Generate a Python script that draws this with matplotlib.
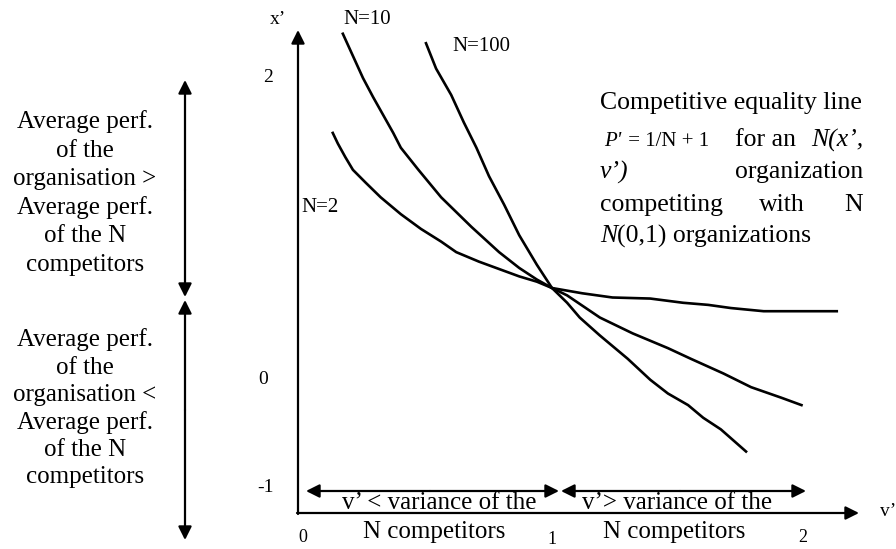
import matplotlib.pyplot as plt

plt.rcParams['font.family'] = ['Liberation Serif', 'DejaVu Serif']

# competitive equality lines, v' (variance) against x' (mean)
v_n2 = [0.13, 0.15, 0.18, 0.21, 0.26, 0.32, 0.40, 0.48, 0.56, 0.62, 0.71, 0.79, 0.87, 0.94, 1.0,
        1.12, 1.24, 1.39, 1.52, 1.62, 1.71, 1.84, 2.13]
x_n2 = [1.47, 1.37, 1.24, 1.12, 1.00, 0.86, 0.70, 0.56, 0.44, 0.34, 0.25, 0.18, 0.11, 0.06, 0.0,
        -0.05, -0.09, -0.10, -0.14, -0.16, -0.19, -0.22, -0.22]

v_n10 = [0.17, 0.21, 0.25, 0.29, 0.33, 0.37, 0.40, 0.47, 0.56, 0.68, 0.79, 0.87, 0.94, 1.0,
         1.06, 1.19, 1.32, 1.46, 1.55, 1.68, 1.79, 1.91, 1.99]
x_n10 = [2.41, 2.20, 1.99, 1.81, 1.64, 1.47, 1.33, 1.12, 0.86, 0.58, 0.34, 0.19, 0.08, 0.0,
         -0.07, -0.28, -0.43, -0.57, -0.67, -0.81, -0.94, -1.04, -1.11]

v_n100 = [0.50, 0.54, 0.60, 0.65, 0.70, 0.75, 0.81, 0.87, 0.94, 1.0,
          1.06, 1.11, 1.19, 1.30, 1.39, 1.46, 1.54, 1.60, 1.67, 1.77]
x_n100 = [2.32, 2.08, 1.83, 1.57, 1.33, 1.06, 0.79, 0.50, 0.22, 0.0,
          -0.14, -0.28, -0.45, -0.67, -0.87, -1.00, -1.11, -1.23, -1.34, -1.55]

curves = [(v_n2, x_n2), (v_n10, x_n10), (v_n100, x_n100)]

W, H = 896, 549


def P(x, y):
    # pixel position on the page -> figure fraction
    return (x / W, 1 - y / H)


fig = plt.figure(figsize=(W / 100, H / 100), dpi=100)
ax = fig.add_axes([0, 0, 1, 1])
ax.set_xlim(-1.1905, 2.3651)
ax.set_ylim(-2.474, 2.730)
ax.axis('off')

for v, x in curves:
    ax.plot(v, x, color='black', lw=1.9)

arrow = dict(arrowstyle='-|>', color='black', lw=1.6, mutation_scale=20, shrinkA=0, shrinkB=0)


def arr(p0, p1):
    ax.annotate('', xy=P(*p1), xytext=P(*p0), xycoords='figure fraction',
                textcoords='figure fraction', arrowprops=arrow)


# axes
arr((298, 514), (298, 30))
arr((297, 513), (859, 513))

# left brackets
arr((185, 190), (185, 80))
arr((185, 190), (185, 297))
arr((185, 410), (185, 300))
arr((185, 410), (185, 540))

# v' range arrows
arr((430, 491), (306, 491))
arr((430, 491), (559, 491))
arr((680, 491), (561, 491))
arr((680, 491), (806, 491))


def T(x, y, s, size=14, ha='center', **kw):
    return fig.text(*P(x, y), s, fontsize=size, ha=ha, va='center', **kw)


def after(t, s, size=18, pad=0, **kw):
    # text placed right after another text
    return ax.annotate(s, xy=(1, 0.5), xycoords=t, xytext=(pad, 0), textcoords='offset points',
                       fontsize=size, ha='left', va='center', **kw)


# axis labels / tick labels
T(278, 20, 'x’', 14)
T(888, 512, 'v’', 14)
T(268, 77, '2', 14)
T(263, 380, '0', 14)
T(265, 487, '-1', 14)
T(303, 537, '0', 13)
T(552, 539, '1', 13)
T(803, 538, '2', 13)

T(367, 20, 'N=10', 15)
T(481, 47, 'N=100', 15)
T(320, 208, 'N=2', 15)

upper = ['Average perf.', 'of the', 'organisation >', 'Average perf.', 'of the N', 'competitors']
lower = ['Average perf.', 'of the', 'organisation <', 'Average perf.', 'of the N', 'competitors']
for i, s in enumerate(upper):
    T(85, 122 + 28.6 * i, s, 18)
for i, s in enumerate(lower):
    T(85, 340 + 27.5 * i, s, 18)

# bottom range captions
T(439, 503, 'v’ < variance of the', 18)
T(434, 532, 'N competitors', 18)
T(677, 503, 'v’> variance of the', 18)
T(674, 532, 'N competitors', 18)

# right annotation, justified between x=600 and x=863
L, R = 600, 863
fs = 18.5
T(L, 103, 'Competitive equality line', fs, ha='left')
tp = T(L + 4, 141, 'P\'', 15, ha='left', style='italic')
after(tp, ' = 1/N + 1', 15, pad=1)
T(735, 140, 'for an', fs, ha='left')
T(R, 140, 'N(x’,', fs, ha='right', style='italic')
T(L, 172, 'v’)', fs, ha='left', style='italic')
T(R, 172, 'organization', fs, ha='right')
T(L, 205, 'competiting', fs, ha='left')
T(782, 205, 'with', fs)
T(R, 205, 'N', fs, ha='right')
tn = T(L, 236, 'N', fs, ha='left', style='italic')
after(tn, '(0,1) organizations', fs)

fig.savefig('out.png', dpi=100)
